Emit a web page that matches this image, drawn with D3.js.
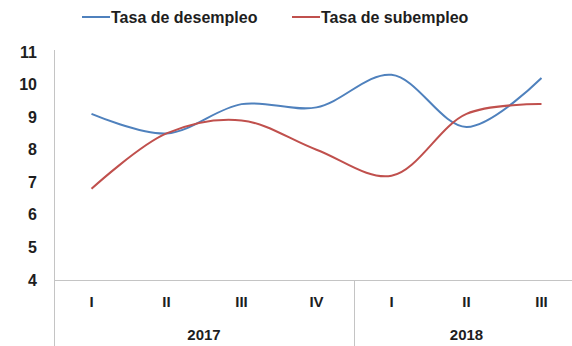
<!DOCTYPE html>
<html>
<head>
<meta charset="utf-8">
<script src="https://cdn.jsdelivr.net/npm/d3@7"></script>
<style>
  html, body { margin: 0; padding: 0; background: #fff; }
  svg { display: block; }
  text { font-family: "Liberation Sans", Arial, sans-serif; font-weight: bold; fill: #1e1e1e; }
</style>
</head>
<body>
<svg id="chart" width="572" height="346"></svg>
<script>
// Quarters grouped by year
const quarters = ["I", "II", "III", "IV", "I", "II", "III"];
const years = [
  { label: "2017", start: 0, count: 4 },
  { label: "2018", start: 4, count: 3 }
];
const yTicks = [4, 5, 6, 7, 8, 9, 10, 11];

// Rates (%)
const desempleo = [9.1, 8.5, 9.4, 9.3, 10.3, 8.7, 10.2];
const subempleo = [6.8, 8.5, 8.9, 8.0, 7.2, 9.1, 9.4];

const seriesNames = ["Tasa de desempleo", "Tasa de subempleo"];
const seriesColors = ["#4F81BD", "#C0504D"];

const svg = d3.select("#chart");
const W = 572, H = 346;
const plotLeft = 54, plotTop = 52, plotBottom = 280, bandW = 75;
const plotRight = plotLeft + bandW * quarters.length;

const x = d3.scaleBand()
  .domain(d3.range(quarters.length))
  .range([plotLeft, plotRight])
  .paddingInner(0).paddingOuter(0);

const y = d3.scaleLinear().domain([4, 11]).range([plotBottom, plotTop]);

const axisColor = "#c4c4c4";

// Value axis labels
svg.append("g")
  .selectAll("text")
  .data(yTicks)
  .join("text")
  .attr("x", 37)
  .attr("y", d => y(d))
  .attr("dy", "0.35em")
  .attr("text-anchor", "end")
  .style("font-size", "16px")
  .text(d => d);

// Vertical axis line, running down through the category band
svg.append("line")
  .attr("x1", plotLeft + 0.5).attr("x2", plotLeft + 0.5)
  .attr("y1", plotTop - 2).attr("y2", H)
  .attr("stroke", axisColor).attr("stroke-width", 1);

// Horizontal axis line
svg.append("line")
  .attr("x1", plotLeft).attr("x2", plotRight)
  .attr("y1", plotBottom + 0.5).attr("y2", plotBottom + 0.5)
  .attr("stroke", axisColor).attr("stroke-width", 1);

// Year separators
years.slice(1).forEach(g => {
  const xs = x(g.start);
  svg.append("line")
    .attr("x1", xs + 0.5).attr("x2", xs + 0.5)
    .attr("y1", plotBottom).attr("y2", H)
    .attr("stroke", axisColor).attr("stroke-width", 1);
});

// Quarter labels
svg.append("g")
  .selectAll("text")
  .data(quarters)
  .join("text")
  .attr("x", (d, i) => x(i) + x.bandwidth() / 2)
  .attr("y", 302)
  .attr("dy", "0.35em")
  .attr("text-anchor", "middle")
  .style("font-size", "15px")
  .text(d => d);

// Year labels
svg.append("g")
  .selectAll("text")
  .data(years)
  .join("text")
  .attr("x", d => (x(d.start) + x(d.start + d.count - 1) + x.bandwidth()) / 2)
  .attr("y", 335)
  .attr("dy", "0.35em")
  .attr("text-anchor", "middle")
  .style("font-size", "15px")
  .text(d => d.label);

// Smoothed lines
const line = d3.line()
  .x((d, i) => x(i) + x.bandwidth() / 2)
  .y(d => y(d))
  .curve(d3.curveCatmullRom.alpha(0.5));

[desempleo, subempleo].forEach((vals, k) => {
  svg.append("path")
    .datum(vals)
    .attr("fill", "none")
    .attr("stroke", seriesColors[k])
    .attr("stroke-width", 2)
    .attr("stroke-linejoin", "round")
    .attr("d", line);
});

// Legend
const legend = svg.append("g");
const legendX = [82, 292];
seriesNames.forEach((name, k) => {
  const g = legend.append("g").attr("transform", `translate(${legendX[k]},17)`);
  g.append("line")
    .attr("x1", 0).attr("x2", 28)
    .attr("y1", 0).attr("y2", 0)
    .attr("stroke", seriesColors[k]).attr("stroke-width", 2);
  g.append("text")
    .attr("x", 29).attr("y", 0).attr("dy", "0.35em")
    .style("font-size", "16px")
    .text(name);
});
</script>
</body>
</html>
